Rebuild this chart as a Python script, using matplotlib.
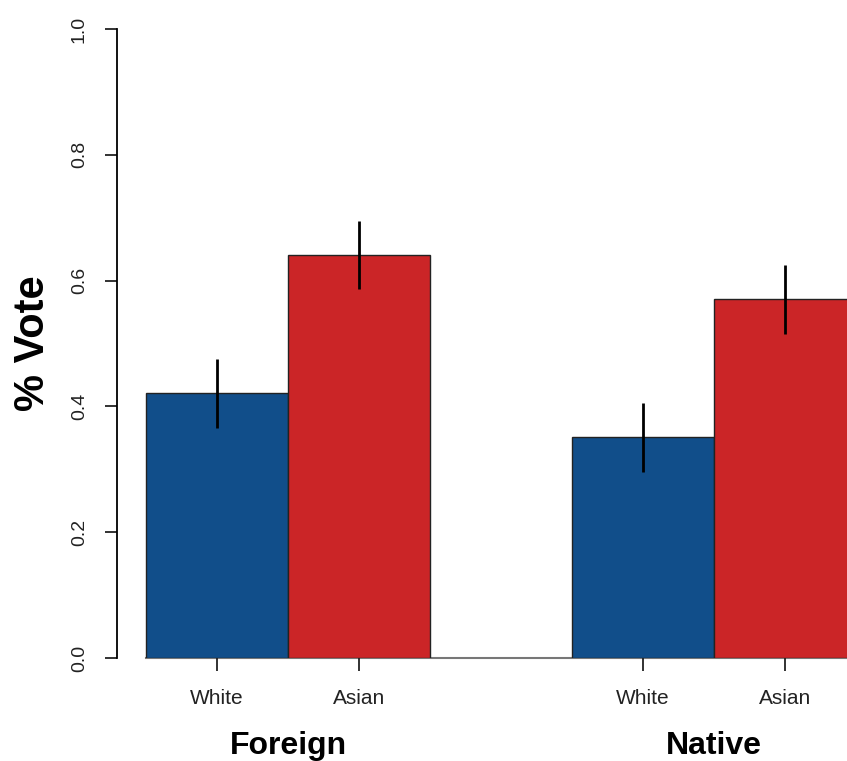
import matplotlib.pyplot as plt
from matplotlib.transforms import blended_transform_factory

plt.rcParams['font.family'] = ['Liberation Sans', 'DejaVu Sans']

groups = ['Foreign', 'Native']
races = ['White', 'Asian']
vote = [0.421, 0.640, 0.351, 0.571]
err_low = [0.365, 0.586, 0.296, 0.515]
err_high = [0.475, 0.695, 0.405, 0.625]
colors = ['#114e8a', '#cb2527', '#114e8a', '#cb2527']

W, H = 847, 761
fig = plt.figure(figsize=(W / 100, H / 100), dpi=100)
ax = fig.add_axes([117 / W, (H - 658) / H, 730 / W, 629 / H])

# bar centres like R's barplot with a gap of one bar between groups
pos = [0.5, 1.5, 3.5, 4.5]
ax.bar(pos, vote, width=1.0, color=colors, edgecolor='#222222', linewidth=1.0, zorder=2)
for x, lo, hi in zip(pos, err_low, err_high):
    ax.plot([x, x], [lo, hi], color='black', lw=2.0, solid_capstyle='butt', zorder=3)

ax.set_xlim(-29 / 142, (847 - 146) / 142)
ax.set_ylim(0, 1)
ax.plot([0, 10], [0, 0], color='#777777', lw=1.5, clip_on=False, zorder=1)

for s in ['top', 'right', 'bottom']:
    ax.spines[s].set_visible(False)
ax.spines['left'].set_bounds(0, 1)
ax.spines['left'].set_linewidth(1.3)

ax.set_yticks([0, 0.2, 0.4, 0.6, 0.8, 1.0])
ax.set_yticklabels(['0.0', '0.2', '0.4', '0.6', '0.8', '1.0'])
ax.tick_params(axis='y', direction='out', length=9, width=1.3, pad=12,
               labelsize=14, labelrotation=90, colors='#222222')
for lab in ax.get_yticklabels():
    lab.set_va('center')

ax.set_xticks(pos)
ax.set_xticklabels(races * 2)
ax.tick_params(axis='x', direction='out', length=9.5, width=1.3, pad=13,
               labelsize=15, colors='#222222')

trans = blended_transform_factory(ax.transData, fig.transFigure)
ax.text(1.0, (H - 746) / H, groups[0], transform=trans, ha='center', va='center',
        fontsize=23, fontweight='bold')
ax.text(4.0, (H - 746) / H, groups[1], transform=trans, ha='center', va='center',
        fontsize=23, fontweight='bold')

fig.text(33 / W, 1 - 343 / H, '% Vote', rotation=90, ha='center', va='center',
         fontsize=30, fontweight='bold')

fig.savefig('out.png', dpi=100)
